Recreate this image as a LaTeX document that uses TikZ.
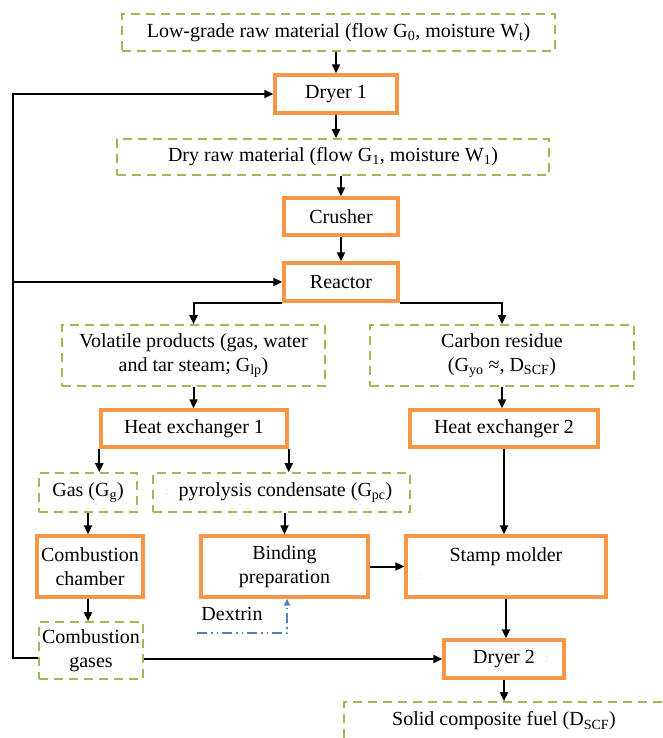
\documentclass[tikz,border=0pt]{standalone}
\usepackage{fontspec}
\setmainfont{Liberation Serif}
\usetikzlibrary{arrows.meta}
\definecolor{boxorange}{HTML}{F79646}
\definecolor{boxgreen}{HTML}{9BBB59}
\definecolor{dexblue}{HTML}{4F81BD}
\tikzset{
  proc/.style={draw=boxorange, line width=3.4pt, rectangle, inner sep=0pt, align=center},
  data/.style={draw=boxgreen, line width=1.6pt, dash pattern=on 9pt off 6pt, rectangle, inner sep=0pt, align=center},
  arr/.style={draw=black, line width=2pt, -{Triangle[length=9pt,width=8pt]}},
  dexarr/.style={draw=dexblue, line width=1.6pt, dash pattern=on 10pt off 4pt on 1.5pt off 4pt on 1.5pt off 4pt, -{Triangle[length=7pt,width=6pt]}},
  faint/.style={text=gray!45, inner sep=0pt, font=\fontsize{10}{12}\selectfont}
}
\begin{document}
\begin{tikzpicture}[x=1pt, y=-1pt, font=\fontsize{20}{24}\selectfont]
\useasboundingbox (0,0) rectangle (662,738);
% nodes
\node[data, minimum width=433pt, minimum height=37pt] (top) at (338.5,32.5) {Low-grade raw material (flow G\textsubscript{0}, moisture W\textsubscript{t})};
\node[proc, minimum width=122pt, minimum height=38pt] (dryer1) at (336,94) {Dryer 1};
\node[data, minimum width=432pt, minimum height=36pt] (dry) at (333,157) {Dry raw material (flow G\textsubscript{1}, moisture W\textsubscript{1})};
\node[proc, minimum width=114pt, minimum height=37pt] (crusher) at (341,216.5) {Crusher};
\node[proc, minimum width=114pt, minimum height=38pt] (reactor) at (341,282) {Reactor};
\node[data, minimum width=263pt, minimum height=61pt] (volatile) at (193.5,355.5) {Volatile products (gas, water\\and tar steam; G\textsubscript{lp})};
\node[data, minimum width=264pt, minimum height=61pt] (carbon) at (502,355.5) {Carbon residue\\(G\textsubscript{yo} ≈, D\textsubscript{SCF})};
\node[proc, minimum width=186pt, minimum height=37pt] (he1) at (194,428.5) {Heat exchanger 1};
\node[proc, minimum width=188pt, minimum height=37pt] (he2) at (504,428.5) {Heat exchanger 2};
\node[data, minimum width=98pt, minimum height=39pt] (gas) at (88,492.5) {Gas (G\textsubscript{g})};
\node[data, minimum width=257pt, minimum height=39pt] (pyro) at (281.5,492.5) {\hspace{8pt}pyrolysis condensate (G\textsubscript{pc})};
\node[proc, minimum width=106pt, minimum height=61pt] (chamber) at (90,566.5) {Combustion\\chamber};
\node[proc, minimum width=167pt, minimum height=61pt] (binding) at (284.5,566.5) {Binding\\preparation};
\node[proc, minimum width=200pt, minimum height=61pt] (stamp) at (506,566.5) {Stamp molder\\\mbox{}};
\node[data, minimum width=104pt, minimum height=57pt] (gases) at (91,650.5) {Combustion\\gases};
\node[proc, minimum width=120pt, minimum height=38pt] (dryer2) at (504,659) {Dryer 2};
\node[data, minimum width=320pt, minimum height=38pt] (solid) at (504,721) {Solid composite fuel (D\textsubscript{SCF})};
\node[inner sep=0pt] (dextrin) at (232,614) {Dextrin};
% faint marks
\node[faint] (m1) at (167,492) {:};
\node[faint] (m2) at (421,577) {:};
\node[faint] (m3) at (547,659) {:};
% coordinates
\coordinate (fb) at (13,658);
\coordinate (dx) at (197,633);
% connectors
\draw[arr] (dryer1.north |- top.south) -- (dryer1.north);
\draw[arr] (dryer1.south) -- (dryer1.south |- dry.north);
\draw[arr] (crusher.north |- dry.south) -- (crusher.north);
\draw[arr] (crusher.south) -- (reactor.north);
\draw[arr] (reactor.south west) -| (volatile.north);
\draw[arr] (reactor.south east) -| (carbon.north);
\draw[arr] (volatile.south) -- (volatile.south |- he1.north);
\draw[arr] (carbon.south) -- (carbon.south |- he2.north);
\draw[arr] (he1.south west) -- (he1.south west |- gas.north);
\draw[arr] (he1.south east) -- (he1.south east |- pyro.north);
\draw[arr] (gas.south) -- (gas.south |- chamber.north);
\draw[arr] (gas.south |- chamber.south) -- (gas.south |- gases.north);
\draw[arr] (binding.north |- pyro.south) -- (binding.north);
\draw[arr] (binding.east) -- (stamp.west);
\draw[arr] (he2.south) -- (he2.south |- stamp.north);
\draw[arr] (stamp.south) -- (stamp.south |- dryer2.north);
\draw[arr] (dryer2.south) -- (dryer2.south |- solid.north);
\draw[arr] (gases.east |- dryer2.west) -- (dryer2.west);
\draw[arr] (gases.west |- fb) -- (fb) |- (dryer1.west);
\draw[arr] (fb |- reactor.west) -- (reactor.west);
\draw[dexarr] (dx) -| ([xshift=2.5pt]binding.south);
\end{tikzpicture}
\end{document}
